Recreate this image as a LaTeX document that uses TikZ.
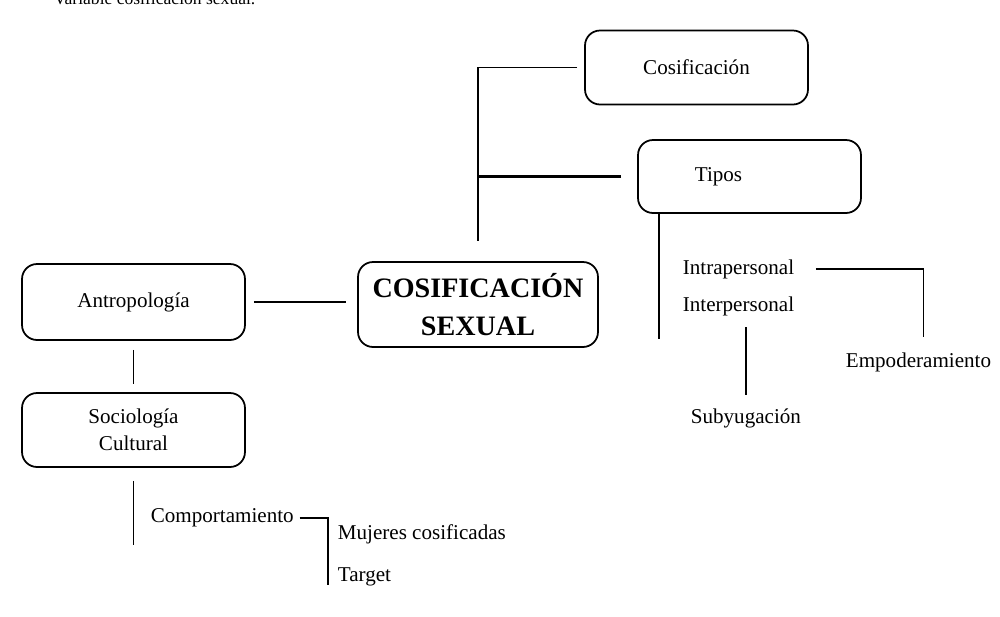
\documentclass[tikz,border=0pt]{standalone}
\usepackage{fontspec}
\setmainfont{Liberation Serif}
\usepackage{tikz}
\usepackage{xcolor}

\begin{document}
\begin{tikzpicture}[x=0.02cm,y=-0.02cm,line width=1pt,
  caja/.style={draw,rounded corners=0.3cm,minimum width=4.46cm,minimum height=1.48cm,align=center,inner sep=0pt,font=\fontsize{12}{15.4}\selectfont},
  txt/.style={anchor=west,inner sep=0pt,font=\fontsize{12}{14}\selectfont}]
  \useasboundingbox (0,0) rectangle (1000,616);
  \node[anchor=base west,inner sep=0pt,font=\fontsize{10}{12}\selectfont] (titulo) at (53,4) {Variable cosificación sexual.};
  \node[caja] (cosif) at (696.5,67.5) {Cosificación}; \node[caja,minimum height=1.46cm] (tipos) at (749.5,176.5) {}; \node[txt] (tipostxt) at (694,177) {Tipos};
  \node[caja,minimum width=4.8cm,minimum height=1.7cm,font=\fontsize{16}{21.6}\selectfont\bfseries] (central) at (478,304.5) {COSIFICACIÓN\\SEXUAL};
  \node[caja,minimum height=1.52cm] (antro) at (133.5,302) {Antropología}; \node[caja] (socio) at (133.5,430) {Sociología\\Cultural};
  \node[txt] (intra) at (682,269) {Intrapersonal}; \node[txt] (inter) at (682,306) {Interpersonal};
  \node[txt] (empod) at (845,362) {Empoderamiento}; \node[txt] (subyug) at (690,418) {Subyugación};
  \node[txt] (comport) at (150,518) {Comportamiento}; \node[txt] (mujeres) at (337,534) {Mujeres cosificadas}; \node[txt] (target) at (337,577) {Target};
  \coordinate (fin) at (328,585);
  \draw ([xshift=-0.14cm]cosif.west) -| ([yshift=0.4cm]central.north); \draw[line width=1.3pt] ([xshift=-0.32cm]tipos.west) -- (tipos.west -| central.north);
  \draw ([xshift=-1.81cm]tipos.south) -- ++(0,125);
  \draw ([xshift=0.42cm]intra.east) -| ([xshift=0.1cm,yshift=0.3cm]empod.north); \draw ([yshift=-0.22cm]inter.south -| subyug.north) -- ([yshift=0.26cm]subyug.north);
  \draw ([xshift=0.16cm]antro.east) -- ([xshift=-0.22cm]antro.east -| central.west); \draw[shorten <=0.18cm,shorten >=0.16cm] (antro.south) -- (socio.north);
  \draw ([yshift=-0.26cm]socio.south) -- ++(0,64); \draw[line width=1.3pt] ([xshift=0.1cm]comport.east) -| (fin);
\end{tikzpicture}
\end{document}
